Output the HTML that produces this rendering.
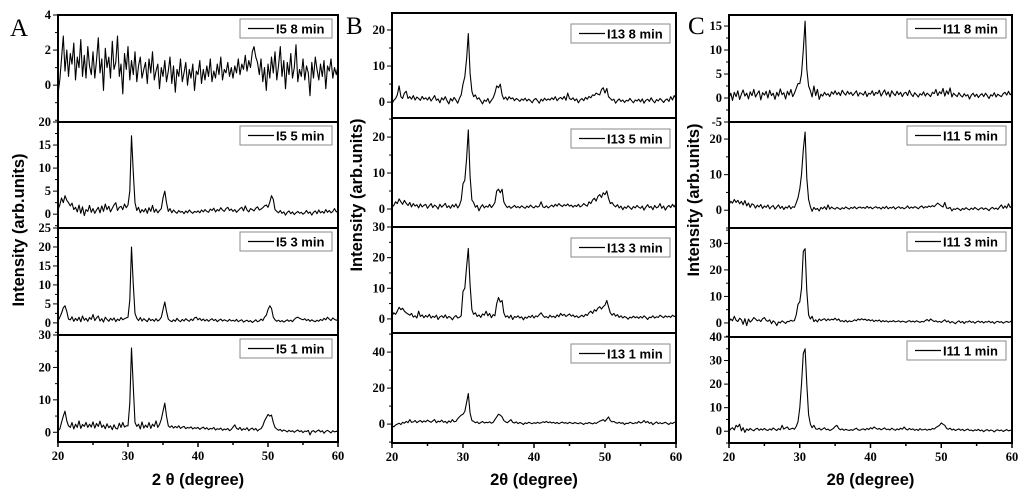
<!DOCTYPE html>
<html><head><meta charset="utf-8"><style>
html,body{margin:0;padding:0;background:#fff;}
svg{display:block;}
.tl{font-family:"Liberation Serif",serif;font-weight:bold;font-size:12.5px;fill:#000;}
.ax{font-family:"Liberation Sans",sans-serif;font-weight:bold;font-size:16.5px;fill:#000;}
.lg{font-family:"Liberation Sans",sans-serif;font-weight:bold;font-size:13px;fill:#000;}
.pl{font-family:"Liberation Serif",serif;font-size:25px;fill:#000;}
</style></head><body>
<svg id="fig" width="1024" height="500" viewBox="0 0 1024 500" xmlns="http://www.w3.org/2000/svg"></svg>
<script>
const xMin = 20;
const xStep = 0.25;
const xTicks = [20, 30, 40, 50, 60];

const a8 = [-0.5,0.3,1.5,2.8,0.8,2,0.5,1.8,1.2,2.4,0.3,1.6,1,2.6,0.5,1.7,0.4,2.2,1.1,0.6,
1.9,0.4,1.4,2.7,0.7,1.5,-0.3,2.1,1,1.6,0.4,2.5,0.9,1.3,2.8,0.5,1.2,-0.5,1.8,0.9,
2.2,0.3,1.4,0.6,1.9,0.2,1.1,1.6,0.4,0.9,1.3,0.1,1.5,0.7,1.9,0.3,0.8,1.2,-0.2,1,
0.5,1.4,0.2,0.8,1.6,0.1,1.1,-0.4,0.9,0.5,1.5,0.2,0.7,1.3,0,0.9,0.4,1.2,-0.3,0.8,
0.6,1.4,0.1,0.9,0.3,1.1,0.5,1.5,0.2,0.8,0.4,1.2,0.6,1.6,0.3,0.9,0.7,1.3,0.5,1,
0.4,1.1,0.7,1.5,0.6,1.2,0.9,1.7,0.8,1.4,1,1.9,2.2,1.6,1.3,0.6,1.5,0.2,1,-0.3,
1.2,0.4,1.6,0.7,1.9,0.3,1.1,2.2,0.5,1.4,-0.2,1.3,0.6,1.8,0.4,1,2.3,0.2,0.9,0.5,
1.5,0.3,1.1,0.7,-0.6,1.3,0.4,1.6,0.9,0.3,1.2,0.5,1.4,-0.2,1.1,0.8,1.5,0.4,1,0.6,1.1];
const a5 = [1,2,3.5,2.5,4,3,2.5,1.8,2.4,1,1.5,0.5,2,0.2,1.6,-0.3,1,0.6,1.9,0.4,
1.2,0.2,0.9,1.5,0.3,1.8,0.6,2.2,1,1.7,0.5,1.3,2,2.5,0.8,1.5,1.7,1,2.2,1.4,
2,5,17,9,2.5,0.8,1.5,0.3,1,0.5,1.2,0.2,1.4,0.6,1.9,0.4,1.1,0.3,0.8,1.2,
3.5,5,2.5,0.6,1.2,0.3,0.9,0.5,0.2,0.8,0.4,0.6,0.1,0.7,0.3,0.9,0.5,0.2,0.6,0.4,
0.7,0.3,0.9,0.5,1,0.6,0.4,1.1,0.8,1.3,0.5,1,0.7,1.4,0.9,0.6,1.2,1.5,0.8,1.1,
0.6,1,0.4,0.8,1.2,1.5,0.7,1.8,0.9,0.5,1.2,1,0.7,1.3,1.6,0.9,1.1,1.4,1.8,2,
1.5,2.6,4,3.2,1,0.6,0.3,0.8,0.2,0.5,-0.2,0.4,0.7,0.1,0.5,-0.1,0.3,0.6,0.2,0.4,
0,0.3,0.8,0.2,0.5,-0.2,0.4,0.7,0.1,0.9,0.3,0.6,0.2,1,0.4,0.8,0.3,0.6,1.2,0.5,0.8];
const a3 = [0.5,1.5,2.5,4,4.5,3,1,0.8,1.6,0.4,1.2,0.6,1.5,0.3,1.8,0.7,1.2,0.4,1.4,0.9,
2.2,0.6,1.3,1.8,0.5,1.1,0.2,1.5,0.9,0.4,1.2,0.7,1.3,0.3,1,0.6,1.4,0.8,1.1,1.3,
1.5,6,20,10,2.5,1.2,0.6,1.4,0.5,1.1,0.7,0.3,1.2,0.6,0.9,0.4,1.1,0.5,0.8,1.5,
3.5,5.5,3,1,0.6,0.3,0.8,0.4,1.2,0.6,0.3,0.9,0.5,1.1,0.7,0.4,1,0.6,1.3,1.5,
0.8,1.2,0.6,1,0.5,0.9,0.4,0.8,1.1,0.6,0.9,0.3,0.7,1,0.5,0.8,0.6,0.4,0.9,0.5,
0.7,0.4,0.9,0.3,0.6,0.8,0.2,0.5,0.7,0.3,0.6,0.1,0.4,0.8,0.3,0.5,1,0.6,1.5,2,
3.5,4.5,3.8,1.5,0.8,0.4,0.7,0.3,0.6,0.2,0.5,0.8,0.4,0.7,0.3,0.9,1.3,1.5,1.2,1,
0.8,1.1,0.6,0.9,0.4,0.8,0.5,0.3,0.7,0.4,0.9,0.6,1.2,0.8,1.5,1,0.6,1.3,0.9,0.7,0.8];
const a1 = [0.5,1,3,5,6.5,3.5,2,1.5,3,1,2.5,1.5,3.5,1.2,2.4,1.8,3,1.5,2.5,1.6,
3.2,1.3,2.7,1.8,3.4,1.5,2.2,1.1,2.6,1.4,2,0.8,2.3,1.2,1,2.8,1.5,3,1.6,2,
2,9,26,14,3,1.8,2.5,1,3.2,1.3,2.2,1.5,3,1.2,2.5,1.8,3.5,1.5,2.4,4,
6.5,9,5,2,1.5,2,1.3,1.8,1.4,2,1.2,1.6,1.8,1.1,1.5,1.3,1.7,1,1.4,1.2,
1.5,0.9,1.3,1.6,1,1.4,0.8,1.2,1,1.5,0.7,1.1,0.9,1.3,0.6,1,0.8,1.2,0.5,0.9,
1.6,2.3,1.2,0.9,1.5,0.6,1.1,0.8,1.4,0.5,1,1.3,0.7,1.2,0.4,0.9,1.1,2,3.5,4.5,
5.5,5,5.3,3,1.5,1,0.6,0.9,0.3,0.7,0.5,0.1,0.6,0.2,0.5,0,0.4,0.7,0.2,0.5,
-0.1,0.4,0.2,0.6,-0.8,0.3,0.5,0,0.4,0.7,0.1,0.5,-0.3,0.3,0.6,0.2,-0.2,0.5,0.1,0.3,0.2];
const b8 = [-0.5,0.5,1,2,4.5,1.5,1,2.5,3,1,1.5,0.8,1.8,0.6,1.4,1,0.5,1.6,0.8,1.2,
0.6,1.4,0.3,1,1.8,0.5,0.9,-0.2,1.2,0.6,1.5,0.4,-0.5,1,0.3,1.3,0.6,-0.3,1,2,
5,7,12,19,8,3,1.5,2,0.8,1.2,0.3,-0.5,0.6,0.2,1,-0.3,0.5,1.2,2.5,4.5,
4,5,2,0.8,1.4,0.6,1.5,0.9,1.2,0.4,1,0.7,0.2,0.9,0.5,1.1,0.3,0.8,0.4,-0.2,
0.7,1,0.4,-0.3,0.8,0.3,1.1,0.5,0.9,0.6,1.2,0.7,1.5,0.4,1,1.3,0.8,1.6,0.5,2.5,
1,0.7,1.2,0.4,0.9,-0.2,0.6,1,0.4,1.3,0.8,1.6,1.2,2,1.8,2.5,2.2,2,3.5,4,
2.5,3.8,1.5,1,0.5,0.8,-0.3,0.4,0.9,0.2,0.6,-0.1,0.5,0.3,1,0.4,-0.2,0.6,0.3,0.8,
0.1,0.9,-0.3,0.5,0.8,0.2,1.2,0.4,-0.2,0.7,0.3,1,0.5,-0.1,0.6,0.9,0.2,1.5,0.6,1.8,1];
const b5 = [0.5,1,2,1.5,2.8,2,1.3,2.4,1.6,1,1.8,0.6,1.5,0.8,1.2,0.3,1.4,0.6,1,1.3,
0.2,0.9,1.5,0.4,1.1,0.7,0,1.3,0.5,1,1.6,0.4,0.9,0.2,1.2,0.6,1.4,0.3,1,2.5,
7,8,14,22,9,2.5,1.8,0.5,1,-0.5,0.6,1.2,0.3,0.8,0.5,1.3,0.4,1,1.8,5,
5.5,4.5,5.5,2,1,0.4,0.8,0.2,0.6,1,0.4,0.7,0.3,0.9,0.5,0.2,0.8,0.4,1.1,0.6,
0.3,0.9,0.5,0.8,2,0.6,0.4,0.9,0.3,0.7,1.1,0.6,1.3,0.8,1.5,1,0.7,1.2,0.9,1.4,
0.8,1.1,0.5,1,0.7,1.3,0.6,0.9,1.5,1.1,0.8,2,1.5,2.5,3,2.2,3.5,4,3.2,4.5,
4,5,3,1.5,1.8,1,0.6,1.2,0.3,0.8,-0.2,0.6,0.2,0.9,0.4,-0.1,0.7,0.3,1,0.5,
0.2,0.8,-0.3,0.5,1.2,0.4,0.7,-0.2,1,0.3,0.6,1.5,0.2,0.8,-0.3,0.5,1,0.4,1.3,0.6,1.5];
const b3 = [1,2,1.5,2.5,3.8,3,3.5,2.5,2,1.6,1.2,1.8,0.6,1,0.3,2.5,0.8,1.3,0.4,1.1,
0.6,1.5,0.3,0.9,0.5,1.2,-0.2,0.7,1,0.4,1.3,0.2,0.8,0.5,-0.3,0.6,1.1,0.3,0.5,1,
9,10,17,23,11,3,1.5,2,0.8,1.3,0.5,1.6,1.2,2.5,1,1.8,0.4,1.4,1,5,
7,5.5,6,2,0.6,1,0.3,1.2,-0.2,0.8,0.5,1,0.3,0.7,-0.3,0.6,0.2,0.9,0.5,1.2,
0.3,1,0.7,1.4,2,1.1,0.5,0.8,0.3,1.2,0.6,0.9,0.4,1.3,0.7,1.8,1.1,1.5,0.8,1.2,
1.6,0.9,1.3,0.6,1,0.4,0.8,1.2,0.7,1.5,1.1,2,2.5,1.8,3,2.5,3.5,4,3.2,4,
4.5,6,4,2,1.2,1.8,0.9,1.4,0.5,1,0.3,0.8,0.5,-0.1,0.6,0.3,0.9,0.4,0.7,0.2,
0.8,0.3,1,0.5,-0.2,0.6,0.4,1,0.3,0.7,0.5,1.2,0.8,0.4,1,0.6,0.9,0.5,1.2,0.8,1];
const b1 = [-1,-1.5,-0.5,0,0.5,-0.3,1,0.5,1.5,0.8,2.5,1,1.2,2,0.8,1.5,2,1,1.8,1.2,
2.2,1.5,1,1.8,2.5,0.8,1.6,1.2,2.2,1,1.5,0.5,1.8,1,2.5,1.3,1.5,3,4,5,
5.5,7,12,17,6,2,1.5,0.8,1.2,0.3,0.9,1.5,0.6,1,0.8,1.3,0.5,1,2.5,4,
5.5,5,4,2,1.2,0.8,1.6,2.5,1,0.6,1.2,0.3,0.9,0.5,-0.2,0.7,0.3,1,0.6,0.2,
0.8,0.4,1,0.5,0.7,1.3,0.9,1.5,0.8,1.2,0.6,1,0.4,0.9,0.2,0.7,1.1,0.5,0.8,0.3,
1,0.6,0.3,0.9,0.5,0.2,0.8,0.4,-0.2,0.6,0.3,0.9,0.5,0.1,0.7,0.4,1,1.6,2,2.5,
1.5,2.8,4,2,1.2,1.5,0.8,0.5,1,0.4,0.8,-0.2,0.5,0.3,1,0.6,0.2,0.8,0.5,1.5,
0.6,1,2,0.8,1.5,0.4,1,-0.3,0.5,1.2,0.3,0.8,0.2,0.6,1,0.4,-0.2,0.7,0.3,1,1];
const c8 = [0,1,-0.5,1.2,0.3,1.5,-0.3,0.8,1.7,0.4,1,-0.2,1.3,0.5,1.8,0.2,0.9,1.5,-0.4,1.1,
0.6,1.4,0,1.6,0.5,1,-0.3,1.2,0.4,1.9,0.7,1.1,-0.2,1.4,0.6,1.8,0.3,1,2,3,
3,5,10,16,6,2.5,1.5,0.2,2.5,0.5,1.8,-0.3,0.8,0.4,1.2,0.6,0.9,0.3,1.3,0.8,
1.5,0.7,1.2,0.5,1.6,1,0.6,1.4,0.8,1.2,0.5,1,1.5,0.4,1.1,0.9,0.6,1.4,0.3,1,
0.8,1.5,0.5,1.2,0.9,1.6,0.4,1.1,1.7,0.6,1.3,0.2,1.5,0.9,0.5,1.4,0.7,1.2,0.3,1,
1.2,0.5,1.6,0.8,0.3,1.1,0.7,0.2,0.9,0.6,1.3,0.4,1,0.7,0.3,1.2,0.9,1.8,0.5,1.3,
0.9,2,0.4,1.5,0.8,2.1,0.2,1,0.6,0.3,1.1,0.5,0.2,0.9,0.4,0.7,-0.2,0.6,1,0.3,
0.8,0.1,0.6,0.9,0.3,1,0.5,-0.1,0.7,0.4,1.1,0.2,0.8,0.5,0.3,0.9,1.2,0.6,1.4,0.7,1];
const c5 = [1.5,2.5,2,3,2.2,2.8,1.8,2.5,1.5,2.7,1.2,2,0.8,1.8,1.5,0.6,1.4,0.9,1.6,0.5,
1.2,0.8,1.5,0.4,1,1.3,0.3,0.9,1.5,0.5,1.1,0.2,0.9,0.6,1.3,0.4,1,0.8,2,3.5,
6,10,17,22,9,3,1,-0.3,0.8,0.2,0.5,-0.2,0.8,0.4,1,0.2,1.5,0.3,0.9,0.5,
0.3,0.8,0.5,0.2,0.7,0.4,0.9,0.6,0.3,0.8,0.5,1,0.4,0.7,0.9,0.6,0.8,0.5,1.1,0.6,
0.9,0.4,0.7,1,0.6,0.8,0.3,0.9,0.5,1.1,0.4,0.8,0.6,1,0.3,0.7,1,0.5,0.8,0.4,
0.7,1.2,0.5,0.9,0.6,1,0.8,0.4,0.9,1.2,0.6,1,0.8,1.2,0.9,1.3,1,1.5,2,1.6,
1.2,0.9,2.2,0.6,0.5,0.8,-0.2,0.4,0.2,0.6,0.3,-0.1,0.5,0.2,0.7,0.3,0.1,0.6,0.2,0.8,
0.4,0.1,0.5,0.7,0.2,0.6,0.3,-0.1,0.5,0.8,0.3,0.6,0.2,0.9,1.5,0.5,1.2,0.6,1.8,0.8,1.2];
const c3 = [0.5,1.5,0.8,2.5,1,0.5,1.8,1.2,-0.5,1.6,-1,1.5,0.3,1,2,1.5,0.8,1.2,0.5,1.6,
2,1,0.6,1.2,-0.3,0.8,0.2,-1,0.4,0,0.8,0.3,-0.2,0.6,0.5,1,0.7,0.9,3,7,
8,13,27,28,12,3,1.5,2.5,0.5,1.2,0.4,1.5,0.9,1.3,1.6,0.8,1.5,1,1.4,1.2,
1.8,1,1.5,0.6,0.9,0.4,1,0.3,0.8,0.5,0.7,1.2,0.8,1.5,1.1,1.6,1.2,1.4,0.9,1.3,
0.8,1.2,0.5,1,0.7,1.1,0.4,0.9,0.5,0.8,0.3,0.7,0.5,0.9,0.4,0.6,0.8,0.3,0.7,0.5,
0.2,0.6,0.9,0.4,0.7,0.3,0.8,0.5,0.2,0.6,0.4,0.9,1.3,0.7,1.5,1,0.5,0.8,0.3,0.6,
0.2,0.7,1.2,0.4,0.8,0,0.5,0.2,-0.3,0.4,0.8,0.1,0.6,-0.2,0.5,0.3,0.8,0.2,0.5,-0.1,
0.4,0.7,0.2,0.6,0,0.5,0.3,0.7,0.1,0.5,-0.2,0.4,0.6,0.2,0.5,-0.1,0.3,0.6,0.2,0.4,1];
const c1 = [0,1,1.5,0.5,2.5,1.8,3,0.2,1.5,-0.5,1,0.3,1.2,0.6,0.2,0.9,1.3,0.4,1,0.5,
1.2,0.6,0.3,1,0.5,1.4,0.8,0.3,1.1,0.6,2.5,0.9,1.4,1.8,0.7,1,1.3,0.8,2,4,
10,20,33,35,20,7,3,1.5,2.5,1,0.8,1.3,0.5,1,1.5,0.6,0.9,0.3,0.7,1.2,
2,2.5,1.2,0.6,1,0.4,0.8,0.5,0.3,0.7,0.4,0.9,1.3,0.6,0.4,0.8,1,0.5,1.2,0.7,
1.5,1,1.8,1.3,0.8,1.2,0.6,1,1.4,0.7,0.9,0.5,1.3,0.8,0.4,1,0.6,1.3,0.8,1.8,
0.9,0.5,1.2,0.7,1,0.4,0.8,0.3,1.1,0.5,0.7,0.9,0.4,0.8,0.6,1.2,0.9,1.6,2,2.5,
3.5,3,2.5,1.2,0.8,1.3,0.5,0.9,0.3,0.7,1,0.4,0.8,0.2,0.6,0.9,0.3,0.5,0.1,0.6,
0.3,0.8,0.2,0.5,-0.2,0.4,0.7,0.1,0.5,0.3,-0.3,0.4,0.6,0.2,0.5,-0.1,0.3,0.7,0.2,0.4,0.5];

const seriesLabels = ["I5 8 min","I5 5 min","I5 3 min","I5 1 min","I13 8 min","I13 5 min","I13 3 min","I13 1 min","I11 8 min","I11 5 min","I11 3 min","I11 1 min"];
const yDomains = [[-2.1,4],[-3,20],[-3.2,25],[-3,30],[-4.4,24.7],[-5,25.3],[-4.6,30],[-10.5,50.6],[-5,17.3],[-5,24.8],[-5.3,35.8],[-5,40]];
const yTickVals = [[0,2,4],[0,5,10,15,20],[0,5,10,15,20,25],[0,10,20,30],[0,10,20],[0,10,20],[0,10,20,30],[0,20,40],[-5,0,5,10,15],[0,10,20],[0,10,20,30],[0,10,20,30,40]];
const yMinorStep = [1,2.5,2.5,5,5,5,5,10,2.5,5,5,5];
const allSeries = [a8,a5,a3,a1,b8,b5,b3,b1,c8,c5,c3,c1];

const cols = [
 {x0:58, x1:338, ys:[15,122,228,335,442], letter:"A", lx:10, ly:36, title:"2 \u03b8 (degree)", ytx:18, yty:230},
 {x0:392, x1:676, ys:[13,118,227,333,443], letter:"B", lx:346, ly:34, title:"2\u03b8 (degree)", ytx:356, yty:195},
 {x0:729, x1:1012, ys:[15,122,228,337,443], letter:"C", lx:688, ly:34, title:"2\u03b8 (degree)", ytx:693, yty:200}
];
const NS = "http://www.w3.org/2000/svg";
const svg = document.getElementById("fig");
function mk(tag, attrs, parent){
  const e = document.createElementNS(NS, tag);
  for (const k in attrs) e.setAttribute(k, attrs[k]);
  (parent||svg).appendChild(e);
  return e;
}
cols.forEach((c, ci) => {
  const g = mk("g", {});
  
  
  const xs = v => c.x0 + (v - 20) / 40 * (c.x1 - c.x0);
  const lt = mk("text", {x:c.lx, y:c.ly, class:"pl"}, g);
  lt.textContent = c.letter;
  
  
  for (let r = 0; r < 4; r++) {
    const si = ci * 4 + r;
    const top = c.ys[r], bot = c.ys[r+1];
    const dom = yDomains[si];
    const ys = v => bot - (v - dom[0]) / (dom[1] - dom[0]) * (bot - top);
    const sg = mk("g", {}, g);
    
    
    const cid = "clip" + si;
    const cp = mk("clipPath", {id:cid}, sg);
    mk("rect", {x:c.x0, y:top, width:c.x1-c.x0, height:bot-top}, cp);
    const data = allSeries[si];
    let d = "";
    data.forEach((v, i) => {
      const x = xs(xMin + i * xStep), y = ys(v);
      d += (i ? "L" : "M") + x.toFixed(1) + "," + y.toFixed(1);
    });
    const p = mk("path", {d:d, fill:"none", stroke:"#000", "stroke-width":1.1, "stroke-linejoin":"round", "clip-path":"url(#"+cid+")"}, sg);
    
    
    for (let v = Math.ceil(dom[0]/yMinorStep[si])*yMinorStep[si]; v <= dom[1]+1e-6; v += yMinorStep[si]) {
      const y = ys(v);
      const major = yTickVals[si].some(t => Math.abs(t - v) < 1e-6);
      mk("line", {x1:c.x0 - (major ? 5 : 3), x2:c.x0, y1:y, y2:y, stroke:"#000", "stroke-width":1}, sg);
    }
    yTickVals[si].forEach(v => {
      const t = mk("text", {x:c.x0 - 7, y:ys(v) + 4, "text-anchor":"end", class:"tl"}, sg);
      t.textContent = v;
      
      
    });
    const lw = seriesLabels[si].startsWith("I5") ? 92 : 99;
    const lx = c.x1 - lw - 6, ly = top + (ci === 1 ? 11 : 4);
    const lg = mk("g", {}, sg);
    
    
    mk("rect", {x:lx, y:ly, width:lw, height:19, fill:"#fff", stroke:"#888", "stroke-width":1}, lg);
    mk("line", {x1:lx+8, x2:lx+34, y1:ly+9.5, y2:ly+9.5, stroke:"#000", "stroke-width":1.2}, lg);
    const tt = mk("text", {x:lx+36, y:ly+14.5, class:"lg"}, lg);
    tt.textContent = seriesLabels[si];
  }
  mk("rect", {x:c.x0, y:c.ys[0], width:c.x1-c.x0, height:c.ys[4]-c.ys[0], fill:"none", stroke:"#000", "stroke-width":2}, g);
  for (let r = 1; r < 4; r++) mk("line", {x1:c.x0, x2:c.x1, y1:c.ys[r], y2:c.ys[r], stroke:"#000", "stroke-width":2}, g);
  const bot = c.ys[4];
  for (let v = 20; v <= 60; v += 5) {
    const major = v % 10 === 0;
    mk("line", {x1:xs(v), x2:xs(v), y1:bot, y2:bot + (major ? 5 : 3), stroke:"#000", "stroke-width":1.5}, g);
  }
  xTicks.forEach(v => {
    const t = mk("text", {x:xs(v), y:bot + 18, "text-anchor":"middle", class:"tl"}, g);
    t.textContent = v;
    
    
  });
  const xt = mk("text", {x:(c.x0+c.x1)/2, y:485, "text-anchor":"middle", class:"ax"}, g);
  xt.textContent = c.title;
  
  
  const yt = mk("text", {x:c.ytx, y:c.yty, "text-anchor":"middle", class:"ax", transform:"rotate(-90 "+c.ytx+" "+c.yty+")", dy:"6"}, g);
  yt.textContent = "Intensity (arb.units)";
  
  
});
</script>
</body></html>
